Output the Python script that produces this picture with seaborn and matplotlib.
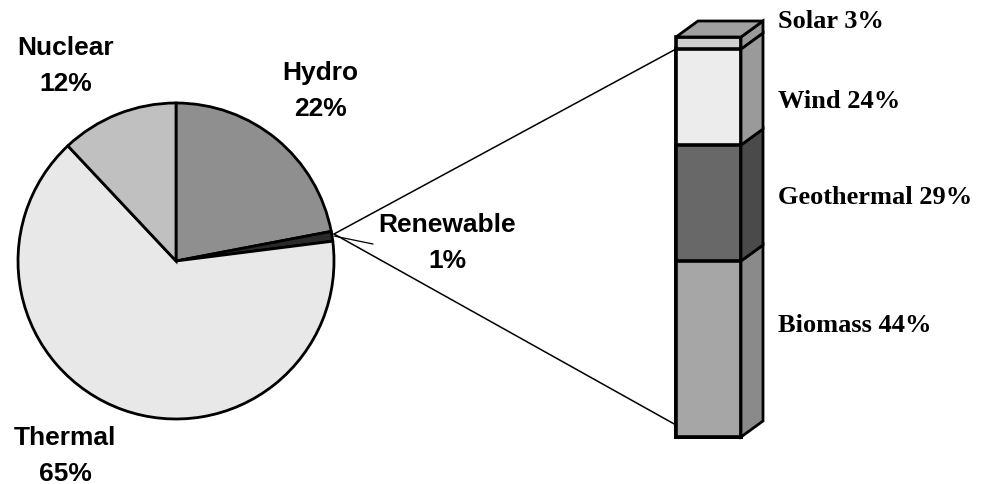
import matplotlib
matplotlib.use("Agg")
import matplotlib.pyplot as plt
import seaborn as sns
from matplotlib.patches import Polygon, ConnectionPatch

# ------------------------------------------------------------------
# Data
# ------------------------------------------------------------------
pie_labels = ["Hydro", "Renewable", "Thermal", "Nuclear"]
pie_values = [22, 1, 65, 12]
pie_colors = ["#8f8f8f", "#2a2a2a", "#e8e8e8", "#c0c0c0"]

renew_labels = ["Biomass", "Geothermal", "Wind", "Solar"]   # bottom -> top
renew_values = [44, 29, 24, 3]
renew_colors = ["#a6a6a6", "#686868", "#ececec", "#cfcfcf"]
side_colors = ["#8a8a8a", "#4a4a4a", "#9a9a9a", "#9a9a9a"]

sns.set_theme(style="white")
plt.rcParams["font.family"] = ["Liberation Sans", "DejaVu Sans"]
plt.rcParams["text.color"] = "black"

W, H = 981, 485
fig = plt.figure(figsize=(W / 100, H / 100), dpi=100)

# main axes in pixel units (y up)
ax = fig.add_axes([0, 0, 1, 1])
ax.set_aspect("equal")

cx, cy, r = 176, H - 262, 158
wedges, _ = ax.pie(pie_values, colors=pie_colors, startangle=90, counterclock=False,
                   center=(cx, cy), radius=r, frame=True,
                   wedgeprops=dict(edgecolor="black", linewidth=2.0))
ax.set_xlim(0, W)
ax.set_ylim(0, H)
ax.axis("off")

pie_font = dict(fontsize=19, fontweight="bold", ha="center", va="center",
                color="black", linespacing=1.6,
                family=["Liberation Sans", "DejaVu Sans"])
ax.text(66, H - 66, "Nuclear\n12%", **pie_font)
ax.text(320, H - 91, "Hydro\n22%", **pie_font)
ax.text(447, H - 243, "Renewable\n1%", **pie_font)
ax.text(65, H - 456, "Thermal\n65%", **pie_font)

# ------------------------------------------------------------------
# Stacked 3D-looking bar for the renewable split
# ------------------------------------------------------------------
bx0, bx1, btop, bbot = 676, 741, 38, 438
bax = fig.add_axes([bx0 / W, (H - bbot) / H, (bx1 - bx0) / W, (bbot - btop) / H])

cum = []
total = 0
for v in renew_values:
    total += v
    cum.append(total)

# draw cumulative bars from tallest to shortest so they stack
for c, col in sorted(zip(cum, renew_colors), reverse=True):
    sns.barplot(x=[0], y=[c], color=col, width=0.8, edgecolor="black",
                linewidth=2.6, saturation=1, ax=bax)
for p in bax.patches:
    p.set_clip_on(False)
bax.set_xlim(-0.4, 0.4)
bax.set_ylim(0, 100)
bax.axis("off")

dx = 22 / (bx1 - bx0) * 0.8
dy = 16 / (bbot - btop) * 100
lo = 0
for v, col in zip(renew_values, side_colors):
    hi = lo + v
    bax.add_patch(Polygon([(0.4, lo), (0.4 + dx, lo + dy), (0.4 + dx, hi + dy), (0.4, hi)],
                          closed=True, facecolor=col, edgecolor="black",
                          linewidth=2.0, clip_on=False))
    lo = hi
bax.add_patch(Polygon([(-0.4, 100), (0.4, 100), (0.4 + dx, 100 + dy), (-0.4 + dx, 100 + dy)],
                      closed=True, facecolor="#a0a0a0", edgecolor="black",
                      linewidth=2.0, clip_on=False))

bar_font = dict(fontsize=19, fontweight="bold", ha="left", va="center", color="black",
                family=["Liberation Serif", "DejaVu Serif"])
label_y = {"Solar": 22, "Wind": 102, "Geothermal": 198, "Biomass": 325}
for name, v in zip(renew_labels, renew_values):
    ax.text(778, H - label_y[name], f"{name} {v}%", **bar_font)

# connector lines from the renewable wedge to the bar
px, py = 334, H - 235
for ybar in [97, 3]:
    con = ConnectionPatch(xyA=(px, py), coordsA=ax.transData,
                          xyB=(-0.4, ybar), coordsB=bax.transData,
                          color="black", linewidth=1.1)
    fig.add_artist(con)
ax.plot([px, 373], [py - 2, H - 245], color="black", linewidth=0.9)

fig.savefig("out.png", dpi=100)
